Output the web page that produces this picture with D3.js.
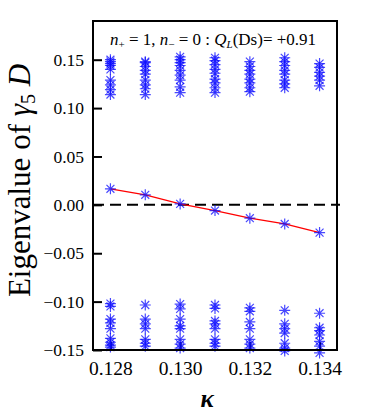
<!DOCTYPE html>
<html lang="en">
<head>
    <meta charset="UTF-8">
    <title>Eigenvalue of gamma5 D vs kappa</title>
    <script src="https://d3js.org/d3.v7.min.js"></script>
    <style>
        body { margin: 0; background: #fff; }
        text { font-family: "Liberation Serif", "Times New Roman", serif; }
    </style>
</head>
<body>
<div id="chart"></div>
<script>
    // kappa values (x)
    var kappas = [0.128, 0.129, 0.130, 0.131, 0.132, 0.133, 0.134];

    // near-zero eigenvalue (the red line)
    var zeroMode = [0.0166, 0.0104, 0.0010, -0.0059, -0.0138, -0.0197, -0.0287];

    // upper band eigenvalues per kappa
    var upperBand = [
        [0.150, 0.148, 0.146, 0.144, 0.140, 0.129, 0.124, 0.119, 0.114],
        [0.148, 0.147, 0.143, 0.139, 0.135, 0.129, 0.124, 0.120, 0.114],
        [0.153, 0.150, 0.147, 0.144, 0.139, 0.134, 0.129, 0.122, 0.116],
        [0.152, 0.149, 0.145, 0.140, 0.136, 0.130, 0.126, 0.121, 0.116],
        [0.148, 0.143, 0.139, 0.135, 0.130, 0.126, 0.121, 0.117],
        [0.152, 0.148, 0.144, 0.139, 0.135, 0.129, 0.125, 0.121],
        [0.146, 0.142, 0.137, 0.133, 0.129, 0.123]
    ];

    // lower band eigenvalues per kappa
    var lowerBand = [
        [-0.102, -0.105, -0.118, -0.122, -0.128, -0.138, -0.142, -0.145, -0.147],
        [-0.1035, -0.118, -0.123, -0.128, -0.139, -0.143, -0.146],
        [-0.1025, -0.1075, -0.118, -0.125, -0.128, -0.139, -0.144, -0.148],
        [-0.1035, -0.107, -0.120, -0.123, -0.128, -0.139, -0.143, -0.146],
        [-0.1065, -0.110, -0.121, -0.128, -0.139, -0.144, -0.148],
        [-0.109, -0.123, -0.128, -0.1325, -0.143, -0.148, -0.151],
        [-0.112, -0.127, -0.130, -0.1345, -0.141, -0.146, -0.153]
    ];

    var xTicks = [0.128, 0.130, 0.132, 0.134];
    var yTicks = [-0.15, -0.10, -0.05, 0.00, 0.05, 0.10, 0.15];

    var margin = {top: 21, right: 45, bottom: 64, left: 93},
        width = 382 - margin.left - margin.right,
        height = 414 - margin.top - margin.bottom;

    var svg = d3.select("#chart")
        .append("svg")
        .attr("width", 382)
        .attr("height", 414)
        .append("g")
        .attr("transform", "translate(" + margin.left + "," + margin.top + ")");

    var x = d3.scaleLinear().domain([0.1275, 0.1345]).range([0, width]);
    var y = d3.scaleLinear().domain([-0.15, 0.19]).range([height, 0]);

    // axes, ticks pointing inward
    var xAxis = svg.append("g")
        .attr("transform", "translate(0," + height + ")")
        .call(d3.axisBottom(x).tickValues(xTicks).tickFormat(d3.format(".3f"))
            .tickSizeInner(-8).tickSizeOuter(0).tickPadding(11));
    var yAxis = svg.append("g")
        .call(d3.axisLeft(y).tickValues(yTicks).tickFormat(d3.format(".2f"))
            .tickSizeInner(-9).tickSizeOuter(0).tickPadding(9));

    [xAxis, yAxis].forEach(function (a) {
        a.attr("font-family", null).attr("font-size", null);
        a.select(".domain").remove();
        a.selectAll(".tick line").attr("stroke", "#000").attr("stroke-width", 2);
        a.selectAll(".tick text").attr("fill", "#000")
            .style("font-family", "Liberation Serif, serif");
    });
    xAxis.selectAll(".tick text").style("font-size", "19.5px");
    yAxis.selectAll(".tick text").style("font-size", "17.5px");

    // zero line
    svg.append("line")
        .attr("x1", 0).attr("x2", width + 3)
        .attr("y1", y(0)).attr("y2", y(0))
        .attr("stroke", "#000")
        .attr("stroke-width", 2)
        .attr("stroke-dasharray", "11,6");

    // asterisk marker
    var r = 5.5, rd = r * 0.72;
    var star = "M" + (-r) + ",0L" + r + ",0M0," + (-r) + "L0," + r +
        "M" + (-rd) + "," + (-rd) + "L" + rd + "," + rd +
        "M" + (-rd) + "," + rd + "L" + rd + "," + (-rd);

    var bandPts = [];
    kappas.forEach(function (k, i) {
        upperBand[i].forEach(function (v) { bandPts.push({k: k, v: v}); });
        lowerBand[i].forEach(function (v) { bandPts.push({k: k, v: v}); });
    });

    svg.append("g").selectAll("path")
        .data(bandPts)
        .enter().append("path")
        .attr("d", star)
        .attr("transform", function (d) { return "translate(" + x(d.k) + "," + y(d.v) + ")"; })
        .attr("fill", "none")
        .attr("stroke", "#0a0aff")
        .attr("stroke-opacity", 0.75)
        .attr("stroke-width", 1.2);

    // red line through the near-zero mode
    var zeroPts = kappas.map(function (k, i) { return {k: k, v: zeroMode[i]}; });
    svg.append("path")
        .datum(zeroPts)
        .attr("fill", "none")
        .attr("stroke", "#ff0000")
        .attr("stroke-width", 1.3)
        .attr("d", d3.line()
            .x(function (d) { return x(d.k); })
            .y(function (d) { return y(d.v); }));

    svg.append("g").selectAll("path")
        .data(zeroPts)
        .enter().append("path")
        .attr("d", star)
        .attr("transform", function (d) { return "translate(" + x(d.k) + "," + y(d.v) + ")"; })
        .attr("fill", "none")
        .attr("stroke", "#0a0aff")
        .attr("stroke-opacity", 0.75)
        .attr("stroke-width", 1.2);

    // frame
    svg.append("rect")
        .attr("width", width)
        .attr("height", height)
        .attr("fill", "none")
        .attr("stroke", "#000")
        .attr("stroke-width", 2);

    // title inside the box
    var title = svg.append("text")
        .attr("x", width / 2 - 2)
        .attr("y", 24)
        .attr("text-anchor", "middle")
        .style("font-size", "17px");
    title.append("tspan").style("font-style", "italic").text("n");
    title.append("tspan").attr("baseline-shift", "-25%").style("font-size", "11px").text("+");
    title.append("tspan").text(" = 1, ");
    title.append("tspan").style("font-style", "italic").text("n");
    title.append("tspan").attr("baseline-shift", "-25%").style("font-size", "11px").text("\u2212");
    title.append("tspan").text(" = 0 : ");
    title.append("tspan").style("font-style", "italic").text("Q");
    title.append("tspan").attr("baseline-shift", "-25%").style("font-size", "11px")
        .style("font-style", "italic").text("L");
    title.append("tspan").text("(Ds)= +0.91");

    // axis labels
    svg.append("text")
        .attr("x", width / 2 - 8)
        .attr("y", height + 57)
        .attr("text-anchor", "middle")
        .style("font-size", "25px")
        .style("font-style", "italic")
        .style("font-weight", "bold")
        .text("\u03ba");

    var yl = svg.append("text")
        .attr("transform", "translate(-63," + (height / 2 - 5) + ") rotate(-90)")
        .attr("text-anchor", "middle")
        .style("font-size", "31px");
    yl.append("tspan").text("Eigenvalue of ");
    yl.append("tspan").style("font-style", "italic").text("\u03b3");
    yl.append("tspan").attr("baseline-shift", "-25%").style("font-size", "20px").text("5");
    yl.append("tspan").text(" ");
    yl.append("tspan").style("font-style", "italic").text("D");
</script>
</body>
</html>
